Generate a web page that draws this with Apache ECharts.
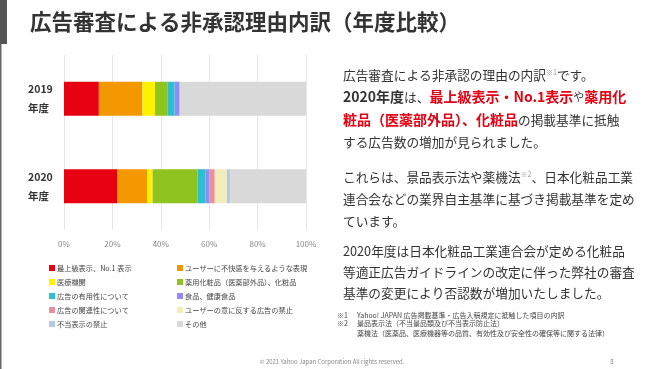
<!DOCTYPE html>
<html><head><meta charset="utf-8">
<script src="https://cdn.jsdelivr.net/npm/echarts@6/dist/echarts.min.js"></script>
<style>html,body{margin:0;padding:0;background:#fff}#c{width:662px;height:369px}</style>
</head><body><div id="c"></div>
<script>
const years = ['2019\n年度', '2020\n年度'];
const seriesNames = ['最上級表示、No.1 表示', 'ユーザーに不快感を与えるような表現', '医療機関', '薬用化粧品（医薬部外品）、化粧品', '広告の有用性について', '食品、健康食品', '広告の関連性について', 'ユーザーの意に反する広告の禁止', '不当表示の禁止', 'その他'];
const seriesColors = ['#E60012', '#F39800', '#FFF100', '#8FC31F', '#2EBFCF', '#8F8CF7', '#E8909D', '#F2EDB8', '#B7C8E6', '#D9D9D9'];
const values2019 = [14.4, 18.0, 5.2, 5.1, 3.0, 2.1, 0, 0, 0, 52.2];
const values2020 = [22.1, 12.2, 2.3, 18.6, 3.2, 1.7, 2.2, 5.0, 1.4, 31.3];
const xTicks = [0, 20, 40, 60, 80, 100];

const FONT = '"Noto Sans CJK JP", "Noto Sans", sans-serif';
const chart = echarts.init(document.getElementById('c'), null, {renderer: 'canvas'});

const series = seriesNames.map((n, i) => ({
  name: n, type: 'bar', stack: 'total', barWidth: 34,
  itemStyle: {color: seriesColors[i]},
  data: [values2019[i], values2020[i]],
  silent: true
}));

function legendFor(idxs, left) {
  return {
    orient: 'vertical', left: left, top: 259,
    itemWidth: 6, itemHeight: 6, itemGap: 6, icon: 'rect',
    textStyle: {fontSize: 7.2, color: '#444', fontFamily: FONT, lineHeight: 8, padding: [0, 0, 0, -3]},
    data: idxs.map(i => seriesNames[i]),
    selectedMode: false
  };
}

const reg = {fontSize: 12.7, fill: '#333', fontFamily: FONT};
const bd = {fontSize: 14, fill: '#333', fontFamily: FONT, fontWeight: 'bold'};
const rd = {fontSize: 14, fill: '#E60012', fontFamily: FONT, fontWeight: 'bold'};
const sm = {fontSize: 11, fill: '#333', fontFamily: FONT};
const sup = {fontSize: 7, fill: '#999', fontFamily: FONT, verticalAlign: 'top', padding: [0, 0, 6, 0]};
const R = {r: reg, b: bd, d: rd, s: sm, u: sup};

function line(y, text) {
  return {type: 'text', x: 343, y: y, style: {text: text, rich: R, verticalAlign: 'middle'}};
}
function note(x, y, t) {
  return {type: 'text', x: x, y: y, style: {text: t, fontSize: 7, fontFamily: FONT, fill: '#444', verticalAlign: 'middle'}};
}

chart.setOption({
  animation: false,
  grid: {left: 64, right: 356, top: 55, bottom: 139},
  xAxis: {
    type: 'value', min: 0, max: 100, interval: 20,
    axisLine: {show: false}, axisTick: {show: false},
    splitLine: {show: true, lineStyle: {color: '#E6E6E6', width: 1}},
    axisLabel: {formatter: v => v + '%', fontSize: 8, color: '#888', fontFamily: FONT, margin: 10,
      customValues: xTicks}
  },
  yAxis: {
    type: 'category', data: years, inverse: true,
    axisLine: {show: false}, axisTick: {show: false},
    axisLabel: {align: 'left', margin: 36, fontSize: 10.5, fontWeight: 'bold', color: '#333', lineHeight: 19, fontFamily: FONT}
  },
  legend: [legendFor([0, 2, 4, 6, 8], 44), legendFor([1, 3, 5, 7, 9], 172)],
  series: series,
  graphic: [
    {type: 'rect', shape: {x: 0, y: 0, width: 7, height: 44}, style: {fill: '#555'}},
    {type: 'rect', shape: {x: 0, y: 44, width: 1.5, height: 325}, style: {fill: '#666'}},
    {type: 'text', x: 30, y: 22, style: {text: '広告審査による非承認理由内訳（年度比較）', fontSize: 21.5, fontWeight: 'bold', fontFamily: FONT, fill: '#333', verticalAlign: 'middle'}},
    line(75, '{r|広告審査による非承認の理由の内訳}{u|※1}{r|です。}'),
    line(97, '{b|2020年度}{r|は、}{d|最上級表示・No.1表示}{s|や}{d|薬用化}'),
    line(120, '{d|粧品（医薬部外品）、化粧品}{r|の掲載基準に抵触}'),
    line(142, '{r|する広告数の増加が見られました。}'),
    line(177, '{r|これらは、景品表示法や薬機法}{u|※2}{r|、日本化粧品工業}'),
    line(199, '{r|連合会などの業界自主基準に基づき掲載基準を定め}'),
    line(221, '{r|ています。}'),
    line(251, '{r|2020年度は日本化粧品工業連合会が定める化粧品}'),
    line(272, '{r|等適正広告ガイドラインの改定に伴った弊社の審査}'),
    line(293, '{r|基準の変更により否認数が増加いたしました。}'),
    note(337, 315, '※1'),
    note(357, 315, 'Yahoo! JAPAN 広告掲載基準・広告入稿規定に抵触した項目の内訳'),
    note(337, 323.5, '※2'),
    note(357, 323.5, '景品表示法（不当景品類及び不当表示防止法）'),
    note(357, 333, '薬機法（医薬品、医療機器等の品質、有効性及び安全性の確保等に関する法律）'),
    {type: 'text', x: 332, y: 362, style: {text: '© 2021 Yahoo Japan Corporation All rights reserved.', fontSize: 6, fontFamily: FONT, fill: '#888', align: 'center', verticalAlign: 'middle'}},
    {type: 'text', x: 612, y: 362, style: {text: '8', fontSize: 6, fontFamily: FONT, fill: '#888', align: 'center', verticalAlign: 'middle'}}
  ]
});
</script></body></html>
